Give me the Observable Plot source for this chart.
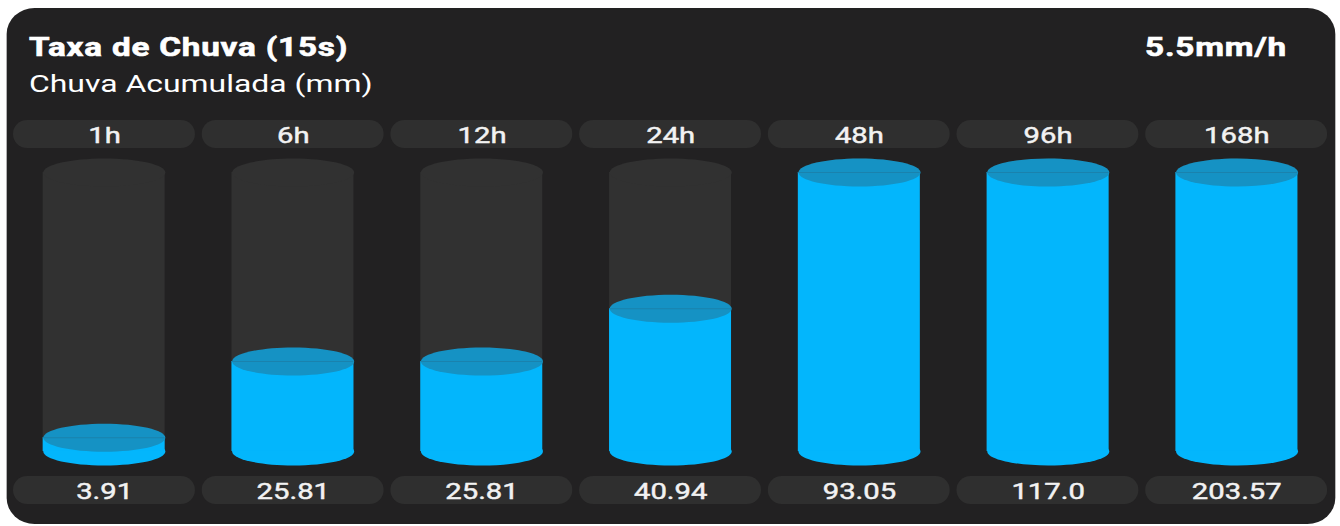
<!DOCTYPE html>
<html>
<head>
<meta charset="utf-8">
<script src="https://cdn.jsdelivr.net/npm/d3@7"></script>
<script src="https://cdn.jsdelivr.net/npm/@observablehq/plot@0.6"></script>
<style>
  html, body { margin: 0; padding: 0; background: #ffffff; overflow: hidden; }
  #stage { position: relative; height: 526px; transform-origin: 0 0; font-family: Roboto, "Noto Sans", sans-serif; }
  #card { position: absolute; background: #222122; overflow: hidden; }
  .hdr { position: absolute; color: #ffffff; line-height: 1; white-space: nowrap; }
  .row { position: absolute; left: 0; }
  .row svg { display: block; }
</style>
</head>
<body>
<div id="stage"><div id="card"></div></div>
<script>
// ---- data ----
const title = "Taxa de Chuva (15s)";
const subtitle = "Chuva Acumulada (mm)";
const rateLabel = "5.5mm/h";
const categories = ["1h", "6h", "12h", "24h", "48h", "96h", "168h"];
const values = [3.91, 25.81, 25.81, 40.94, 93.05, 117.0, 203.57];
const valueLabels = ["3.91", "25.81", "25.81", "40.94", "93.05", "117.0", "203.57"];
const capacity = 80; // mm that fill a cylinder

// ---- layout / style ----
const S = 1.33;                 // horizontal stretch of the original widget
const cardW = 1328 / S, cardH = 516;
const colors = {
  card: "#222122", pill: "#2f2f2f", empty: "#313131",
  water: "#03b6fc", surface: "#1592c4", line: "#1a82ad", text: "#f2f2f2"
};
const RY = 14;                  // vertical radius of the cylinder ellipses

const stage = document.getElementById("stage");
stage.style.width = (1340 / S) + "px";
stage.style.transform = `scaleX(${S})`;
const card = document.getElementById("card");
Object.assign(card.style, {
  left: (7 / S) + "px", top: "8px", width: cardW + "px", height: cardH + "px",
  borderRadius: `${28 / S}px / 26px`
});

function hdr(text, css) {
  const d = document.createElement("div");
  d.className = "hdr";
  d.textContent = text;
  Object.assign(d.style, css);
  card.appendChild(d);
}
const heavy = { fontSize: "25px", fontWeight: "700", letterSpacing: "0.6px", webkitTextStroke: "0.6px #ffffff" };
hdr(title, { left: (22 / S) + "px", top: "27px", ...heavy });
hdr(subtitle, { left: (22 / S) + "px", top: "64px", fontSize: "24px", fontWeight: "400" });
hdr(rateLabel, { right: (48 / S) + "px", top: "27px", ...heavy });

const data = categories.map((c, i) => ({
  cat: c, value: values[i], label: valueLabels[i], level: Math.min(values[i], capacity)
}));

const xScale = { type: "band", domain: categories, padding: 0, round: false, axis: null };
const common = {
  width: cardW, marginLeft: 2.6 / S, marginRight: 3.8 / S,
  style: { background: "transparent", fontFamily: "Roboto, sans-serif", color: colors.text, overflow: "visible" }
};

const ellipse = {
  draw(ctx, size) {
    const rx = Math.sqrt(size / Math.PI), ry = RY, k = 0.5523;
    ctx.moveTo(rx, 0);
    ctx.bezierCurveTo(rx, ry * k, rx * k, ry, 0, ry);
    ctx.bezierCurveTo(-rx * k, ry, -rx, ry * k, -rx, 0);
    ctx.bezierCurveTo(-rx, -ry * k, -rx * k, -ry, 0, -ry);
    ctx.bezierCurveTo(rx * k, -ry, rx, -ry * k, rx, 0);
    ctx.closePath();
  }
};

function pillRow(textField, top) {
  const p = Plot.plot({
    ...common, height: 28, marginTop: 0, marginBottom: 0,
    x: xScale,
    marks: [
      Plot.cell(data, { x: "cat", fill: colors.pill, insetLeft: 3.4 / S, insetRight: 3.4 / S, rx: 14 / S, ry: 14 }),
      Plot.text(data, { x: "cat", text: textField, fill: colors.text, stroke: colors.text, strokeWidth: 0.45,
        fontSize: 22, fontWeight: "normal", frameAnchor: "middle", dy: 1 })
    ]
  });
  const wrap = document.createElement("div");
  wrap.className = "row";
  wrap.style.top = top + "px";
  wrap.appendChild(p);
  card.appendChild(wrap);
}

pillRow("cat", 112);

const ci = 33.4 / S, rr = 61 / S;
const cyl = Plot.plot({
  ...common, height: 320, marginTop: 20, marginBottom: 21,
  x: xScale,
  y: { domain: [0, capacity], axis: null },
  marks: [
    Plot.barY(data, { x: "cat", y1: () => 0, y2: () => capacity, fill: colors.empty, insetLeft: ci, insetRight: ci }),
    Plot.dot(data, { x: "cat", y: () => capacity, r: rr, symbol: ellipse, fill: colors.empty }),
    Plot.dot(data, { x: "cat", y: () => 0, r: rr, symbol: ellipse, fill: colors.water }),
    Plot.barY(data, { x: "cat", y1: () => 0, y2: "level", fill: colors.water, insetLeft: ci, insetRight: ci }),
    Plot.dot(data, { x: "cat", y: "level", r: rr, symbol: ellipse, fill: colors.surface }),
    Plot.tickY(data, { x: "cat", y: "level", stroke: colors.line, strokeWidth: 1, insetLeft: ci, insetRight: ci })
  ]
});
const cw = document.createElement("div");
cw.className = "row";
cw.style.top = "144px";
cw.appendChild(cyl);
card.appendChild(cw);

pillRow("label", 468);
</script>
</body>
</html>
